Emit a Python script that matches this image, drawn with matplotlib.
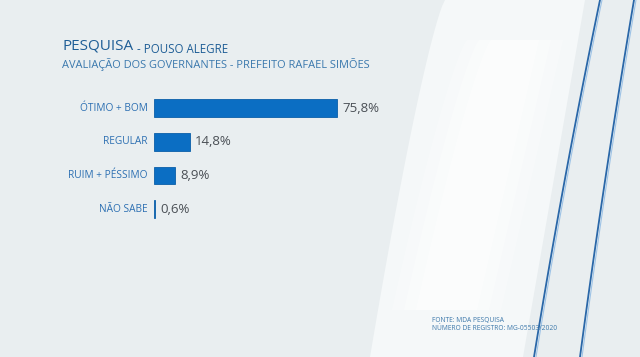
import numpy as np
import matplotlib.pyplot as plt
from matplotlib.patches import Polygon

# Dados da pesquisa
categorias = ["ÓTIMO + BOM", "REGULAR", "RUIM + PÉSSIMO", "NÃO SABE"]
valores = [75.8, 14.8, 8.9, 0.6]
rotulos = ["75,8%", "14,8%", "8,9%", "0,6%"]

titulo = "PESQUISA"
local = "- POUSO ALEGRE"
subtitulo = "AVALIAÇÃO DOS GOVERNANTES - PREFEITO RAFAEL SIMÕES"
fonte = "FONTE: MDA PESQUISA"
registro = "NÚMERO DE REGISTRO: MG-05503/2020"

plt.rcParams['font.family'] = ['Open Sans', 'DejaVu Sans']

W, H = 640, 357
fig = plt.figure(figsize=(W / 100, H / 100), dpi=100)
fig.patch.set_facecolor('#e9eef0')

# fundo decorativo (coordenadas em pixels)
bg = fig.add_axes([0, 0, 1, 1])
bg.set_xlim(0, W)
bg.set_ylim(H, 0)
bg.axis('off')

t = np.linspace(0, 1, 60)
borda_esq = np.column_stack([445 - 75 * t ** 0.8, t * H])
borda_dir = np.column_stack([585 - 62 * t, t * H])[::-1]
bg.add_patch(Polygon(np.vstack([borda_esq, borda_dir]), closed=True,
                     facecolor='#f5f8f9', edgecolor='none', zorder=0))
# brilho suave no centro da faixa clara
for k, a in enumerate([0.25, 0.35, 0.45]):
    d = 12 * (k + 1)
    bg.add_patch(Polygon(np.vstack([np.column_stack([445 - 75 * t ** 0.8 + d + 10, 40 + t * 270]),
                                    np.column_stack([585 - 62 * t - d - 10, 40 + t * 270])[::-1]]),
                         closed=True, facecolor='#ffffff', edgecolor='none', alpha=a, zorder=0))

for x0, x1 in [(600, 534), (634, 580)]:
    xs = x0 + (x1 - x0) * (t + 0.12 * t * (1 - t))
    bg.plot(xs, t * H, color='#2a67a8', lw=1.3, zorder=1)
    bg.plot(xs + 2, t * H, color='#9ec3e6', lw=0.8, zorder=1)

# títulos
tt = fig.text(62 / W, 1 - 49 / H, titulo, fontsize=11, color='#1f5e96', va='baseline')
bg.annotate(local, xy=(1, 0), xycoords=tt, xytext=(3, 0), textcoords='offset points',
            fontsize=8.3, color='#1f5e96', va='baseline', ha='left')
fig.text(62 / W, 1 - 68 / H, subtitulo, fontsize=7.9, color='#3a78ad', va='baseline')

fig.text(432 / W, 1 - 322 / H, fonte, fontsize=4.8, color='#3c78aa', va='baseline')
fig.text(432 / W, 1 - 330 / H, registro, fontsize=4.8, color='#3c78aa', va='baseline')

# gráfico de barras
esp = 33.6
ax = fig.add_axes([154 / W, 1 - (209 + esp / 2) / H, 260 / W, 4 * esp / H])
ax.patch.set_alpha(0)
y = np.arange(len(categorias))
ax.barh(y, valores, height=0.52, color='#0b6ec3', edgecolor='#0a5fa8', lw=0.6)
ax.set_xlim(0, 260 / 2.414)
ax.set_ylim(len(categorias) - 0.5, -0.5)
ax.axis('off')

for i, (v, r, c) in enumerate(zip(valores, rotulos, categorias)):
    ax.text(v + 2.2, i, r, va='center', ha='left', fontsize=9.5, color='#4a4f55')
    ax.text(-2.5, i, c, va='center', ha='right', fontsize=7.3, color='#2c6fb2')

fig.savefig('out.png', dpi=100, facecolor=fig.get_facecolor())
